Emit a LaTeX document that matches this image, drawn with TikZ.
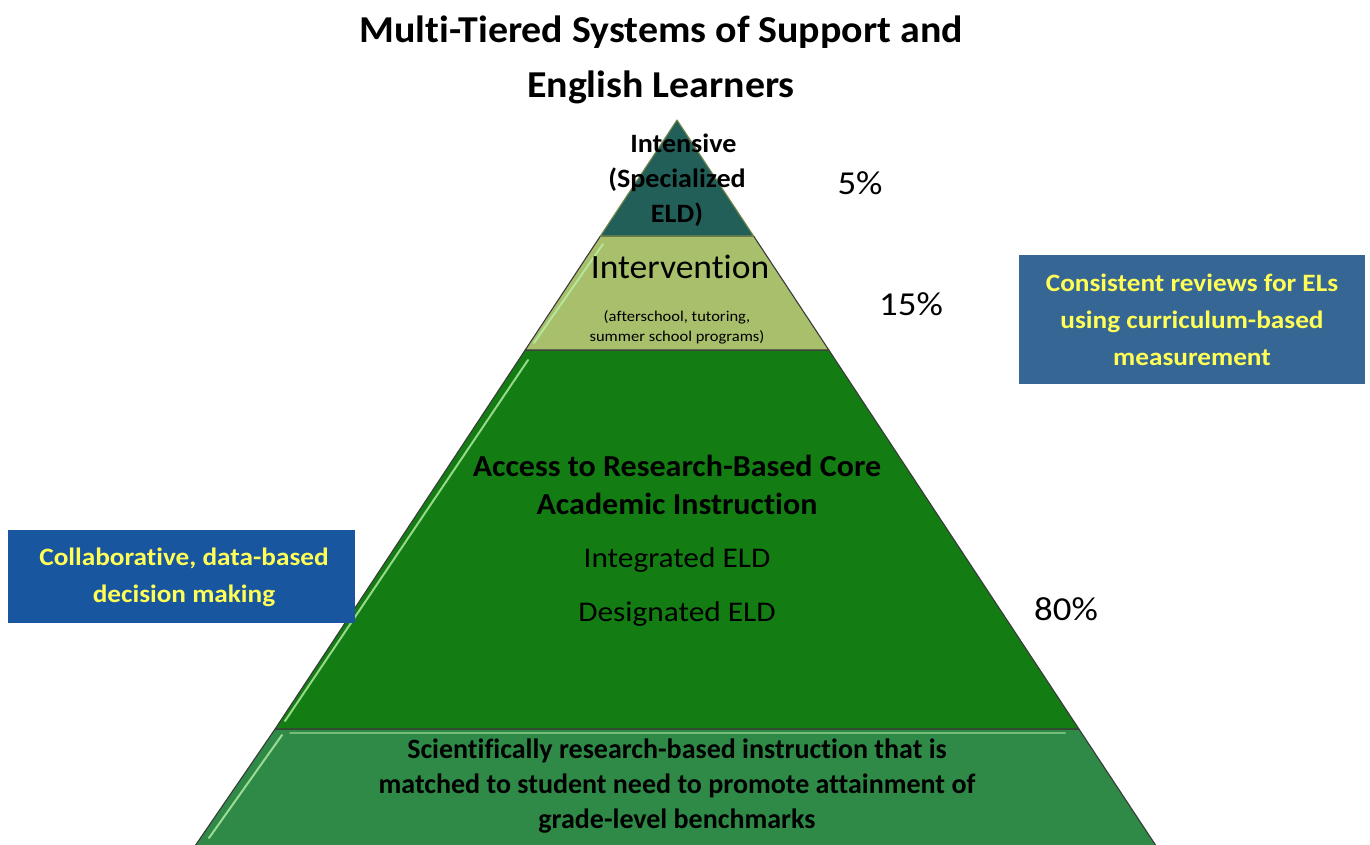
\documentclass[tikz,border=0pt]{standalone}
\usepackage{fontspec}
\setmainfont{Carlito}[Ligatures=NoCommon]
\definecolor{tealtop}{HTML}{225F59}
\definecolor{olivetier}{HTML}{A8BF6B}
\definecolor{coregreen}{HTML}{137D13}
\definecolor{basegreen}{HTML}{2E8A46}
\definecolor{boxright}{HTML}{366694}
\definecolor{boxleft}{HTML}{1856A0}
\definecolor{ylw}{HTML}{FFFF55}
\definecolor{edgegray}{HTML}{3A3A3A}
\definecolor{hilite}{HTML}{B8F0A8}
\begin{document}
\begin{tikzpicture}[x=1pt,y=-1pt,
  tier/.style={draw=edgegray,line width=1.1pt,line join=round},
  hl/.style={draw=hilite,line width=2pt,line cap=round,opacity=0.8},
  ttl/.style={font=\fontsize{38}{55}\selectfont\bfseries,align=center,xscale=1.05},
  pct/.style={font=\fontsize{33.5}{36}\selectfont,xscale=1.1},
  ybox/.style={text=ylw,font=\fontsize{25}{37}\selectfont\bfseries,align=center,inner sep=0pt,xscale=1.09}]
\useasboundingbox (0,0) rectangle (1370,844);
% tiers
\coordinate (apex) at (677,120);
\coordinate (l1) at (600.4,236); \coordinate (r1) at (753.6,236);
\coordinate (l2) at (525.2,350); \coordinate (r2) at (828.8,350);
\coordinate (l3) at (275.1,729); \coordinate (r3) at (1078.9,729);
\coordinate (l4) at (198.8,844); \coordinate (r4) at (1155.2,844);
\begin{scope}
\clip (0,0) rectangle (1370,844);
\path[tier,fill=basegreen] (l3) -- (r3) -- (1160,851.8) -- (191,851.8) -- cycle;
\path[tier,fill=coregreen] (l2) -- (r2) -- (r3) -- (l3) -- cycle;
\path[tier,fill=olivetier] (l1) -- (r1) -- (r2) -- (l2) -- cycle;
\path[tier,draw=olivetier!70!black,fill=tealtop] (apex) -- (r1) -- (l1) -- cycle;
% bevel highlights
\draw[hl] (285,721) -- (528,360);
\draw[hl] (209,838) -- (282,735);
\draw[hl] (534,343) -- (603,244);
\draw[hl,opacity=0.5] (290,733) -- (1065,733);
\end{scope}
% title
\node[ttl] (title) at (661,60) {Multi-Tiered Systems of Support and\\English Learners};
% tier texts
\node[font=\fontsize{26.5}{35}\selectfont\bfseries,align=center,xscale=1.06] (t1) at (677,180) {\hspace*{12pt}Intensive\\(Specialized\\ELD)};
\node[font=\fontsize{34}{36}\selectfont,xscale=1.045] (t2) at (680,267) {Intervention};
\node[font=\fontsize{15}{20}\selectfont,align=center,xscale=1.1] (t2b) at (677,327) {(afterschool, tutoring,\\summer school programs)};
\node[font=\fontsize{30.5}{38}\selectfont\bfseries,align=center,xscale=1.05] (t3) at (677,485) {Access to Research-Based Core\\Academic Instruction};
\node[font=\fontsize{28.5}{30}\selectfont,xscale=1.1] (t3b) at (677,560) {Integrated ELD};
\node[font=\fontsize{28.5}{30}\selectfont,xscale=1.1] (t3c) at (677,614) {Designated ELD};
\node[font=\fontsize{28}{35}\selectfont\bfseries,align=center] (t4) at (677,786) {Scientifically research-based instruction that is\\matched to student need to promote attainment of\\grade-level benchmarks};
% percentages
\node[pct] (p5) at (860,183) {5\%};
\node[pct] (p15) at (911,304) {15\%};
\node[pct] (p80) at (1066,609) {80\%};
% side boxes
\fill[boxright] (1019,255) rectangle (1365,384);
\node[ybox] (rbox) at (1192,320) {Consistent reviews for ELs\\using curriculum-based\\measurement};
\fill[boxleft] (8,530) rectangle (355,623);
\node[ybox] (lbox) at (184,577) {Collaborative, data-based\\decision making};
\end{tikzpicture}
\end{document}
